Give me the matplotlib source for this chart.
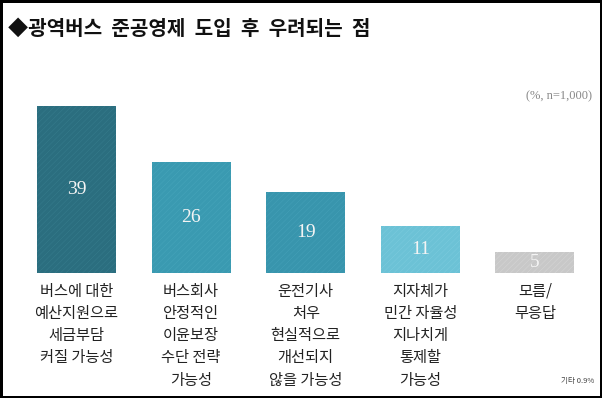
import matplotlib
matplotlib.use('Agg')
import matplotlib.pyplot as plt

plt.rcParams['font.family'] = ['Noto Sans CJK KR', 'DejaVu Sans']
plt.rcParams['hatch.linewidth'] = 0.35

# 데이터
title = '◆광역버스  준공영제  도입  후  우려되는  점'
categories = ['버스에 대한\n예산지원으로\n세금부담\n커질 가능성',
              '버스회사\n안정적인\n이윤보장\n수단 전략\n가능성',
              '운전기사\n처우\n현실적으로\n개선되지\n않을 가능성',
              '지자체가\n민간 자율성\n지나치게\n통제할\n가능성',
              '모름/\n무응답']
values = [39, 26, 19, 11, 5]
colors = ['#2b6e7f', '#3a9ab1', '#3895ad', '#6cc2d6', '#c8c8c8']
hatch_colors = ['#377d8d', '#47a5bb', '#45a1b8', '#7ccbde', '#d6d6d6']
unit_note = '(%, n=1,000)'
etc_note = '기타 0.9%'

fig = plt.figure(figsize=(6.02, 3.98), dpi=100, linewidth=2.5, edgecolor='black')
W, H = 602, 398
ax = fig.add_axes([0, 125 / H, 1, (273 - 106) / H])
ax.set_xlim(-76.5 / 114.6, (W - 76.5) / 114.6)
ax.set_ylim(0, 39)

x = range(len(values))
bars = ax.bar(x, values, width=0.69, color=colors, edgecolor=hatch_colors,
              linewidth=0, hatch='//////')

for i, v in enumerate(values):
    ax.text(i, v / 2, str(v), ha='center', va='center', color='#f4f4f4',
            fontsize=14, family='Liberation Serif')

for i, c in enumerate(categories):
    ax.annotate(c, xy=(i, 0), xycoords='data', xytext=(0, -7),
                textcoords='offset points', ha='center', va='top',
                fontsize=11, linespacing=1.4, color='#222222')

for s in ax.spines.values():
    s.set_visible(False)
ax.set_xticks([])
ax.set_yticks([])
ax.patch.set_alpha(0)

fig.text(8 / W, 1 - 28 / H, title, ha='left', va='center', fontsize=14.5,
         fontweight='bold', color='#111111')
fig.text(592 / W, 1 - 96 / H, unit_note, ha='right', va='center', fontsize=9,
         family='Liberation Serif', color='#888888')
fig.text(594 / W, 1 - 381 / H, etc_note, ha='right', va='center', fontsize=5.5,
         color='#444444')

fig.savefig('out.png', dpi=100, edgecolor=fig.get_edgecolor())
